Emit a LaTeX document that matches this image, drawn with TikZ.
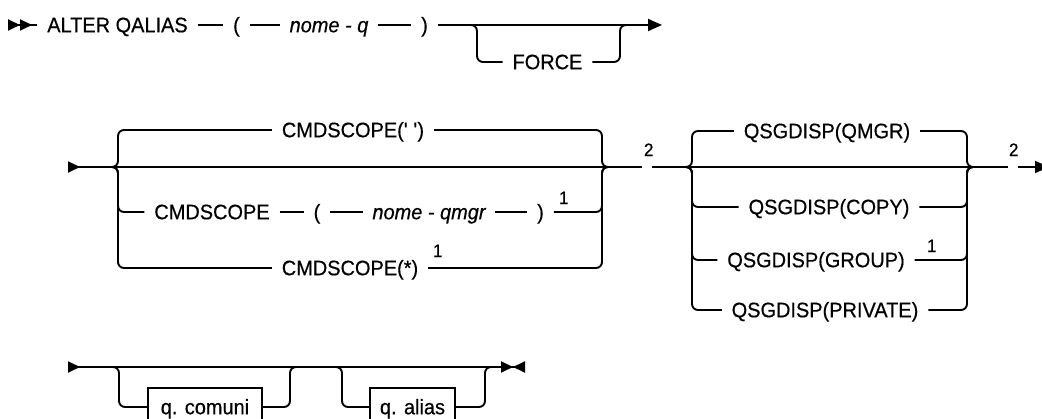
\documentclass[tikz,border=0pt]{standalone}
\usepackage{fontspec}
\setmainfont{Liberation Sans}[FakeBold=0.5, FakeStretch=0.95]
\usetikzlibrary{arrows.meta}
\tikzset{
  endtip/.tip={Triangle[length=14pt, width=12pt, sep=0pt]},
  starttip/.tip={Triangle[reversed, length=12pt, width=11pt, sep=0pt]},
  backtip/.tip={Triangle[reversed, length=12pt, width=11pt, sep=0pt]}
}
\begin{document}
\begin{tikzpicture}[
  x=1pt, y=-1pt, line width=1.9pt,
  txt/.style={inner xsep=9pt, inner ysep=0pt, text height=14.5pt, text depth=0pt,
              font=\fontsize{21}{24}\selectfont},
  var/.style={txt, font=\fontsize{21}{24}\selectfont\itshape},
  ref/.style={inner sep=0pt, anchor=south west, font=\fontsize{18}{20}\selectfont},
  box/.style={txt, draw, minimum height=38pt, inner xsep=0pt},
  brace/.style={rounded corners=6pt}
]
\useasboundingbox (0,0) rectangle (1042,419);

% Row 1
\coordinate (s1) at (8,25);
\node[txt] (alter) at (117.5,25) {ALTER QALIAS};
\node[txt] (lp1)   at (236.5,25) {(};
\node[var] (nomeq) at (329,25)   {nome - q};
\node[txt] (rp1)   at (424.5,25) {)};
\node[txt] (force) at (547.5,62) {FORCE};
\coordinate (f0) at (467,25); \coordinate (fl) at (477,25);
\coordinate (fr) at (620,25); \coordinate (f3) at (630,25);
\coordinate (e1) at (662,25);

\draw[{starttip[]starttip[]}-] (s1) -- (alter);
\draw (alter) -- (lp1);
\draw (lp1) -- (nomeq);
\draw (nomeq) -- (rp1);
\draw[-endtip] (rp1) -- (e1);
\draw[brace] (f0) -- (fl) |- (force);
\draw[brace] (force) -| (fr) -- (f3);

% Row 2: CMDSCOPE
\coordinate (s2)  at (68,167);
\coordinate (cl)  at (111,167); \coordinate (clv) at (118,167);
\coordinate (crv) at (602,167); \coordinate (cr)  at (609,167);
\node[txt] (cmdtop)   at (353,130) {CMDSCOPE(\textquotesingle\ \textquotesingle)};
\node[txt] (cmd)      at (212,212) {CMDSCOPE};
\node[txt] (lp2)      at (317,212) {(};
\node[var] (nomeqmgr) at (429,212) {nome - qmgr};
\node[txt] (rp2)      at (540.5,212) {)};
\node[ref] (n1a)      at (558,205) {1};
\node[txt] (cmdstar)  at (350,268) {CMDSCOPE(*)};
\node[ref] (n1b)      at (432,258) {1};
\coordinate (g2a) at (642,167); \coordinate (g2b) at (652,167);
\node[ref] (n2a) at (643,157) {2};

\draw[starttip-] (s2) -- (cl);
\draw (cl) -- (cr) -- (g2a);
\draw[brace] (cmdtop) -| (clv) -- (cl);
\draw[brace] (cmdtop) -| (crv) -- (cr);
\draw[brace] (cl) -- (clv) |- (cmd);
\draw (cmd) -- (lp2);
\draw (lp2) -- (nomeqmgr);
\draw (nomeqmgr) -- (rp2);
\draw[brace] (rp2) -| (crv) -- (cr);
\draw[brace] (cl) -- (clv) |- (cmdstar);
\draw[brace] (cmdstar) -| (crv) -- (cr);

% Row 2: QSGDISP
\coordinate (ql)  at (684,167); \coordinate (qlv) at (692,167);
\coordinate (qrv) at (967,167); \coordinate (qr)  at (975,167);
\node[txt] (qmgr)    at (827,131) {QSGDISP(QMGR)};
\node[txt] (copy)    at (829,207) {QSGDISP(COPY)};
\node[txt] (group)   at (816,260) {QSGDISP(GROUP)};
\node[ref] (n1c)     at (926,253) {1};
\node[txt] (private) at (825,310) {QSGDISP(PRIVATE)};
\coordinate (g2c) at (1008,167); \coordinate (g2d) at (1018,167);
\node[ref] (n2b) at (1008,157) {2};
\coordinate (e2) at (1049,167);

\draw (g2b) -- (ql) -- (qr) -- (g2c);
\draw[-endtip] (g2d) -- (e2);
\draw[brace] (qmgr) -| (qlv) -- (ql);
\draw[brace] (qmgr) -| (qrv) -- (qr);
\foreach \opt in {copy,group,private} {
  \draw[brace] (ql) -- (qlv) |- (\opt);
  \draw[brace] (\opt) -| (qrv) -- (qr);
}

% Row 3
\coordinate (s3) at (68,367); \coordinate (e3) at (525,367);
\coordinate (a0) at (109,367); \coordinate (al) at (119,367);
\coordinate (ar) at (290,367); \coordinate (a3) at (300,367);
\coordinate (b0) at (332,367); \coordinate (bl) at (342,367);
\coordinate (br) at (485,367); \coordinate (b3) at (494,367);
\node[box, minimum width=114pt] (comuni) at (205,407)   {q. comuni};
\node[box, minimum width=85pt]  (alias)  at (412.5,407) {q. alias};

\draw[{starttip[]}-{endtip[length=12pt, width=11pt] backtip[]}] (s3) -- (e3);
\draw[brace] (a0) -- (al) |- (comuni);
\draw[brace] (comuni) -| (ar) -- (a3);
\draw[brace] (b0) -- (bl) |- (alias);
\draw[brace] (alias) -| (br) -- (b3);
\end{tikzpicture}
\end{document}
